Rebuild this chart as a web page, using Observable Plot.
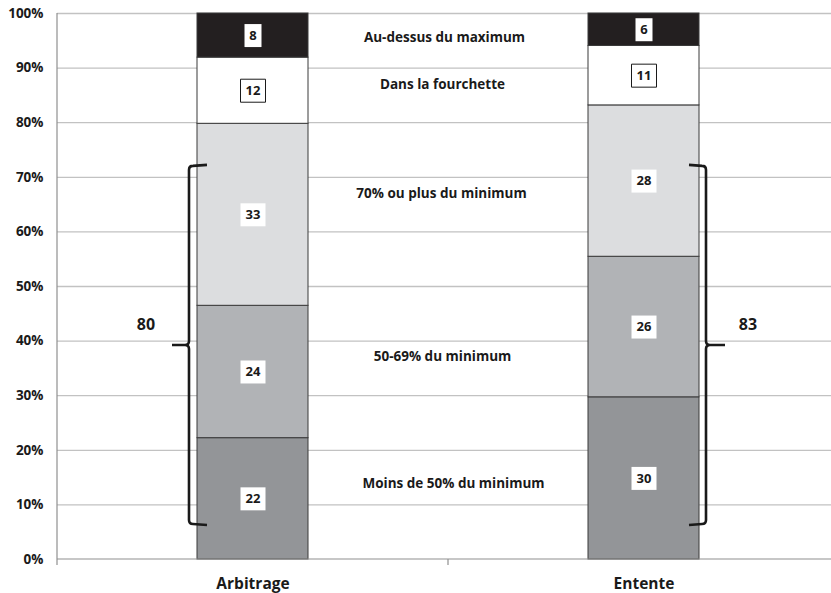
<!DOCTYPE html>
<html>
<head>
<meta charset="utf-8">
<script src="https://cdn.jsdelivr.net/npm/d3@7"></script>
<script src="https://cdn.jsdelivr.net/npm/@observablehq/plot@0.6"></script>
<style>
  html, body { margin: 0; padding: 0; background: #fff; }
  #chart svg { display: block; }
</style>
</head>
<body>
<div id="chart"></div>
<script>
// Categories (x) and stacked series, bottom to top
const categories = ["Arbitrage", "Entente"];
const series = [
  "Moins de 50% du minimum",
  "50-69% du minimum",
  "70% ou plus du minimum",
  "Dans la fourchette",
  "Au-dessus du maximum"
];
const arbitrageValues = [22, 24, 33, 12, 8];
const ententeValues = [30, 26, 28, 11, 6];
// Totals shown beside the curly braces
const braceTotals = [80, 83];
const yTicks = [0, 0.1, 0.2, 0.3, 0.4, 0.5, 0.6, 0.7, 0.8, 0.9, 1];

// Styling and layout
const seriesColors = ["#939598", "#b1b3b6", "#dcdddf", "#ffffff", "#231f20"];
const seriesLabelY = [0.139, 0.372, 0.670, 0.870, 0.956];
const seriesLabelDx = [9, -2, -3, -2, 0];
const braceSpan = [0.064, 0.72];
const FONT = "'Open Sans', Lato, sans-serif";

const table = categories.flatMap((category, ci) =>
  series.map((s, si) => ({
    category,
    series: s,
    value: [arbitrageValues, ententeValues][ci][si]
  }))
);

// Rectangular label box symbols sized to the number of digits
const boxCache = new Map();
function boxSymbol(chars) {
  if (!boxCache.has(chars)) {
    const w = 8 * chars + 9, h = 23;
    boxCache.set(chars, {
      draw(ctx) {
        ctx.moveTo(-w / 2, -h / 2);
        ctx.lineTo(w / 2, -h / 2);
        ctx.lineTo(w / 2, h / 2);
        ctx.lineTo(-w / 2, h / 2);
        ctx.closePath();
      }
    });
  }
  return boxCache.get(chars);
}

const stackOpts = {x: "category", y: "value", z: "series", offset: "normalize"};

// Axis lines, category separator ticks and curly braces with their totals
function decorations(index, scales, values, dimensions) {
  const x = scales.x, y = scales.y;
  const bw = typeof x.bandwidth === "function" ? x.bandwidth() : x.bandwidth;
  const g = d3.create("svg:g");
  const left = dimensions.marginLeft;
  const a0 = x(categories[0]), a1 = a0 + bw;
  const e0 = x(categories[1]), e1 = e0 + bw;
  const gap = e0 - a1;
  const y0 = y(0), y1 = y(1);

  // vertical axis line
  g.append("line").attr("x1", left).attr("x2", left).attr("y1", y0).attr("y2", y1)
    .attr("stroke", "#8f8f8f").attr("stroke-width", 1.2);
  // horizontal axis line with ticks between categories
  g.append("line").attr("x1", left).attr("x2", dimensions.width).attr("y1", y0).attr("y2", y0)
    .attr("stroke", "#8f8f8f").attr("stroke-width", 1.2);
  for (const tx of [left, a1 + gap / 2, e1 + gap / 2]) {
    g.append("line").attr("x1", tx).attr("x2", tx).attr("y1", y0).attr("y2", y0 + 6)
      .attr("stroke", "#8f8f8f").attr("stroke-width", 1.2);
  }

  const yTop = y(braceSpan[1]), yBot = y(braceSpan[0]);
  const yMid = (yTop + yBot) / 2;
  function brace(xv, xc, xt) {
    const s = Math.sign(xc - xv); // direction of the end curls
    const r = 4;
    return `M${xc},${yTop - 1}L${xv + s * r},${yTop}Q${xv},${yTop} ${xv},${yTop + r}`
      + `L${xv},${yMid - r}Q${xv},${yMid} ${xv - s * r},${yMid}L${xt},${yMid}`
      + `M${xv - s * r},${yMid}Q${xv},${yMid} ${xv},${yMid + r}`
      + `L${xv},${yBot - r}Q${xv},${yBot} ${xv + s * r},${yBot}L${xc},${yBot + 1}`;
  }
  const braces = [
    {d: brace(a0 - 8, a0 + 10, a0 - 25), lx: a0 - 51},
    {d: brace(e1 + 7, e1 - 10, e1 + 26), lx: e1 + 49}
  ];
  braces.forEach((b, i) => {
    g.append("path").attr("d", b.d).attr("fill", "none")
      .attr("stroke", "#1a1a1a").attr("stroke-width", 2.6)
      .attr("stroke-linejoin", "round").attr("stroke-linecap", "butt");
    g.append("text").attr("x", b.lx).attr("y", yMid - 21)
      .attr("text-anchor", "middle").attr("dominant-baseline", "central")
      .attr("font-family", FONT).attr("font-weight", "bold").attr("font-size", 16)
      .attr("fill", "#1a1a1a").text(braceTotals[i]);
  });
  return g.node();
}

const chart = Plot.plot({
  width: 831,
  height: 593,
  marginLeft: 57,
  marginRight: 0,
  marginTop: 13,
  marginBottom: 34,
  style: {fontFamily: FONT, color: "#1a1a1a", background: "#fff"},
  x: {
    domain: categories,
    range: [57, 839],
    paddingInner: 0.715,
    paddingOuter: 0.3575
  },
  y: {domain: [0, 1]},
  color: {domain: series, range: seriesColors},
  marks: [
    Plot.ruleY(yTicks.slice(1), {stroke: "#c2c2c2", strokeWidth: 1.3}),
    Plot.barY(table, Plot.stackY({
      ...stackOpts,
      fill: "series",
      stroke: "#3a3a3a",
      strokeWidth: 1
    })),
    Plot.dot(table, Plot.stackY({
      ...stackOpts,
      symbol: (d) => boxSymbol(String(d.value).length),
      r: 10,
      fill: "#fff",
      stroke: "#1a1a1a",
      strokeWidth: 1,
      strokeOpacity: (d) => (d.series === "Dans la fourchette" ? 1 : 0)
    })),
    Plot.text(table, Plot.stackY({
      ...stackOpts,
      text: (d) => String(d.value),
      fill: "#1a1a1a",
      fontSize: 13,
      fontWeight: "bold"
    })),
    ...series.map((s, i) => Plot.text([s], {
      y: () => seriesLabelY[i],
      text: (d) => d,
      frameAnchor: "middle",
      dx: seriesLabelDx[i],
      fontSize: 13.5,
      fontWeight: "bold",
      fill: "#1a1a1a"
    })),
    Plot.axisY({
      ticks: yTicks,
      tickFormat: d3.format(".0%"),
      tickSize: 0,
      tickPadding: 14,
      fontSize: 13.5,
      fontWeight: "bold",
      label: null
    }),
    Plot.axisX({
      tickSize: 0,
      tickPadding: 18,
      fontSize: 15.5,
      fontWeight: "bold",
      label: null
    }),
    decorations
  ]
});

document.getElementById("chart").appendChild(chart);
</script>
</body>
</html>
